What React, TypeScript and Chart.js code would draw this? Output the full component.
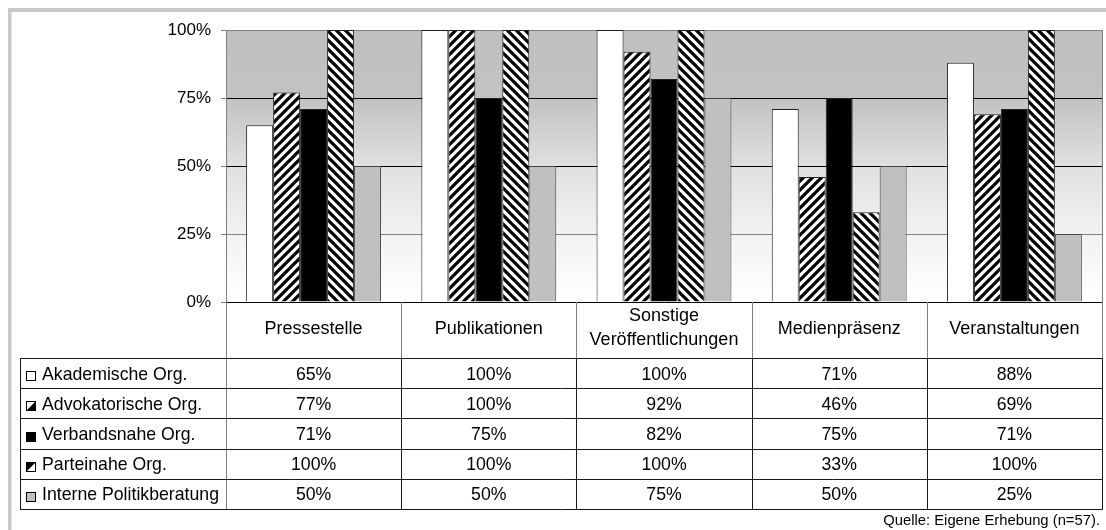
import React, { useEffect, useRef } from 'react';
import { Chart, registerables } from 'chart.js';

Chart.register(...registerables);

const categories: string[][] = [
  ['Pressestelle'],
  ['Publikationen'],
  ['Sonstige', 'Veröffentlichungen'],
  ['Medienpräsenz'],
  ['Veranstaltungen'],
];
const seriesNames = [
  'Akademische Org.',
  'Advokatorische Org.',
  'Verbandsnahe Org.',
  'Parteinahe Org.',
  'Interne Politikberatung',
];
const akademisch = [65, 100, 100, 71, 88];
const advokatorisch = [77, 100, 92, 46, 69];
const verbandsnah = [71, 75, 82, 75, 71];
const parteinah = [100, 100, 100, 33, 100];
const intern = [50, 50, 75, 50, 25];
const yTickStep = 25;
const sourceNote = 'Quelle: Eigene Erhebung (n=57).';

const FONT = '"Liberation Sans", Arial, sans-serif';

function stripes(dir: 1 | -1): CanvasPattern | string {
  const s = 9;
  const c = document.createElement('canvas');
  c.width = s;
  c.height = s;
  const g = c.getContext('2d');
  if (!g) return '#888';
  g.fillStyle = '#fff';
  g.fillRect(0, 0, s, s);
  g.strokeStyle = '#000';
  g.lineWidth = 3.3;
  g.beginPath();
  if (dir === 1) {
    for (const k of [0, s, 2 * s]) {
      g.moveTo(k + s, -s);
      g.lineTo(k - 2 * s, 2 * s);
    }
  } else {
    for (const k of [-s, 0, s]) {
      g.moveTo(k - s, -s);
      g.lineTo(k + 2 * s, 2 * s);
    }
  }
  g.stroke();
  const p = g.createPattern(c, 'repeat');
  return p || '#888';
}

function drawIcon(ctx: CanvasRenderingContext2D, kind: number, x: number, y: number, s: number) {
  ctx.save();
  ctx.fillStyle = kind === 2 ? '#000' : kind === 4 ? '#c0c0c0' : '#fff';
  ctx.fillRect(x, y, s, s);
  ctx.fillStyle = '#000';
  if (kind === 1) {
    ctx.beginPath();
    ctx.moveTo(x, y + s);
    ctx.lineTo(x + s, y);
    ctx.lineTo(x + s, y + s);
    ctx.closePath();
    ctx.fill();
  } else if (kind === 3) {
    ctx.beginPath();
    ctx.moveTo(x, y);
    ctx.lineTo(x + s, y);
    ctx.lineTo(x, y + s);
    ctx.closePath();
    ctx.fill();
  }
  ctx.strokeStyle = '#000';
  ctx.lineWidth = 1;
  ctx.strokeRect(x + 0.5, y + 0.5, s - 1, s - 1);
  ctx.restore();
}

const tablePlugin = {
  id: 'dataTable',
  beforeDraw(chart: any) {
    const { ctx, chartArea: a } = chart;
    ctx.save();
    ctx.fillStyle = '#fff';
    ctx.fillRect(0, 0, chart.width, chart.height);
    ctx.fillStyle = '#c8c8c8';
    ctx.fillRect(8, 8, chart.width, 4);
    ctx.fillRect(8, 8, 3.5, chart.height);
    const g = ctx.createLinearGradient(0, a.top, 0, a.bottom);
    g.addColorStop(0, '#c0c0c0');
    g.addColorStop(0.25, '#c2c2c2');
    g.addColorStop(0.5, '#e0e0e0');
    g.addColorStop(0.75, '#f2f2f2');
    g.addColorStop(1, '#ffffff');
    ctx.fillStyle = g;
    ctx.fillRect(a.left, a.top, a.right - a.left, a.bottom - a.top);
    ctx.restore();
  },
  afterDraw(chart: any) {
    const { ctx, chartArea: a } = chart;
    const xs = chart.scales.x;
    const n = categories.length;
    const w = (a.right - a.left) / n;
    const catTop = a.bottom;
    const catBottom = 358;
    const rowH = 30.2;
    const tableLeft = 20;
    const tableBottom = catBottom + rowH * seriesNames.length;
    const values = [akademisch, advokatorisch, verbandsnah, parteinah, intern];
    const px = (v: number) => Math.round(v) + 0.5;

    ctx.save();
    ctx.lineWidth = 1;
    ctx.strokeStyle = '#808080';
    ctx.beginPath();
    ctx.moveTo(px(a.right), a.top);
    ctx.lineTo(px(a.right), catBottom);
    ctx.moveTo(px(a.left), a.bottom);
    ctx.lineTo(px(a.left), tableBottom);
    for (let i = 1; i < n; i++) {
      const x = px(a.left + i * w);
      ctx.moveTo(x, catTop);
      ctx.lineTo(x, catBottom);
    }
    ctx.stroke();

    ctx.strokeStyle = '#1a1a1a';
    ctx.beginPath();
    for (let r = 0; r <= seriesNames.length; r++) {
      const y = px(catBottom + r * rowH);
      ctx.moveTo(tableLeft, y);
      ctx.lineTo(a.right + 1, y);
    }
    ctx.moveTo(px(tableLeft), px(catBottom));
    ctx.lineTo(px(tableLeft), px(tableBottom));
    for (let i = 1; i <= n; i++) {
      const x = px(a.left + i * w);
      ctx.moveTo(x, catBottom);
      ctx.lineTo(x, tableBottom);
    }
    ctx.stroke();

    ctx.fillStyle = '#000';
    ctx.font = `18px ${FONT}`;
    ctx.textAlign = 'center';
    ctx.textBaseline = 'alphabetic';
    categories.forEach((lines, i) => {
      const cx = xs.getPixelForValue(i);
      if (lines.length === 1) {
        ctx.fillText(lines[0], cx, 334);
      } else {
        ctx.fillText(lines[0], cx, 321);
        ctx.fillText(lines[1], cx, 345);
      }
    });

    ctx.font = `17.7px ${FONT}`;
    seriesNames.forEach((name, r) => {
      const cy = catBottom + r * rowH + rowH / 2;
      drawIcon(ctx, r, 26, Math.round(cy - 2), 10);
      ctx.fillStyle = '#000';
      ctx.textAlign = 'left';
      ctx.fillText(name, 42, cy + 6.5);
      ctx.textAlign = 'center';
      values[r].forEach((v, i) => {
        ctx.fillText(`${v}%`, xs.getPixelForValue(i), cy + 6.5);
      });
    });

    ctx.font = `14.8px ${FONT}`;
    ctx.textAlign = 'right';
    ctx.fillText(sourceNote, 1100, 525);
    ctx.restore();
  },
};

export default function App() {
  const ref = useRef<HTMLCanvasElement | null>(null);
  useEffect(() => {
    if (!ref.current) return;
    document.body.style.overflow = 'hidden';
    const chart = new Chart(ref.current, {
      type: 'bar',
      data: {
        labels: categories.map((c) => c.join(' ')),
        datasets: [
          { label: seriesNames[0], data: akademisch, backgroundColor: '#ffffff', borderColor: '#222', borderWidth: 1 },
          { label: seriesNames[1], data: advokatorisch, backgroundColor: stripes(1) as any, borderColor: '#222', borderWidth: 1 },
          { label: seriesNames[2], data: verbandsnah, backgroundColor: '#000000', borderColor: '#222', borderWidth: 1 },
          { label: seriesNames[3], data: parteinah, backgroundColor: stripes(-1) as any, borderColor: '#222', borderWidth: 1 },
          { label: seriesNames[4], data: intern, backgroundColor: '#c0c0c0', borderColor: '#444', borderWidth: 1 },
        ],
      },
      options: {
        responsive: false,
        animation: false,
        devicePixelRatio: 1,
        layout: { padding: { left: 0, top: 30, right: 4, bottom: 228 } },
        plugins: { legend: { display: false }, tooltip: { enabled: false }, title: { display: false } },
        datasets: { bar: { categoryPercentage: 0.77, barPercentage: 1.0 } },
        scales: {
          x: { display: false },
          y: {
            min: 0,
            max: 100,
            afterFit: (scale: any) => {
              scale.width = 226;
            },
            ticks: {
              stepSize: yTickStep,
              padding: 10,
              color: '#000',
              font: { family: FONT, size: 17 },
              callback: (v: any) => `${v}%`,
            },
            grid: {
              color: (c: any) => (c.tick && (c.tick.value === 100 || c.tick.value === 25) ? '#808080' : '#000'),
              tickColor: '#808080',
              tickLength: 5,
              lineWidth: 1,
            },
            border: { color: '#808080', width: 1 },
          },
        },
      },
      plugins: [tablePlugin],
    });
    return () => chart.destroy();
  }, []);
  return (
    <canvas
      ref={ref}
      width={1106}
      height={530}
      style={{ position: 'fixed', left: 0, top: 0, width: 1106, height: 530 }}
    />
  );
}
